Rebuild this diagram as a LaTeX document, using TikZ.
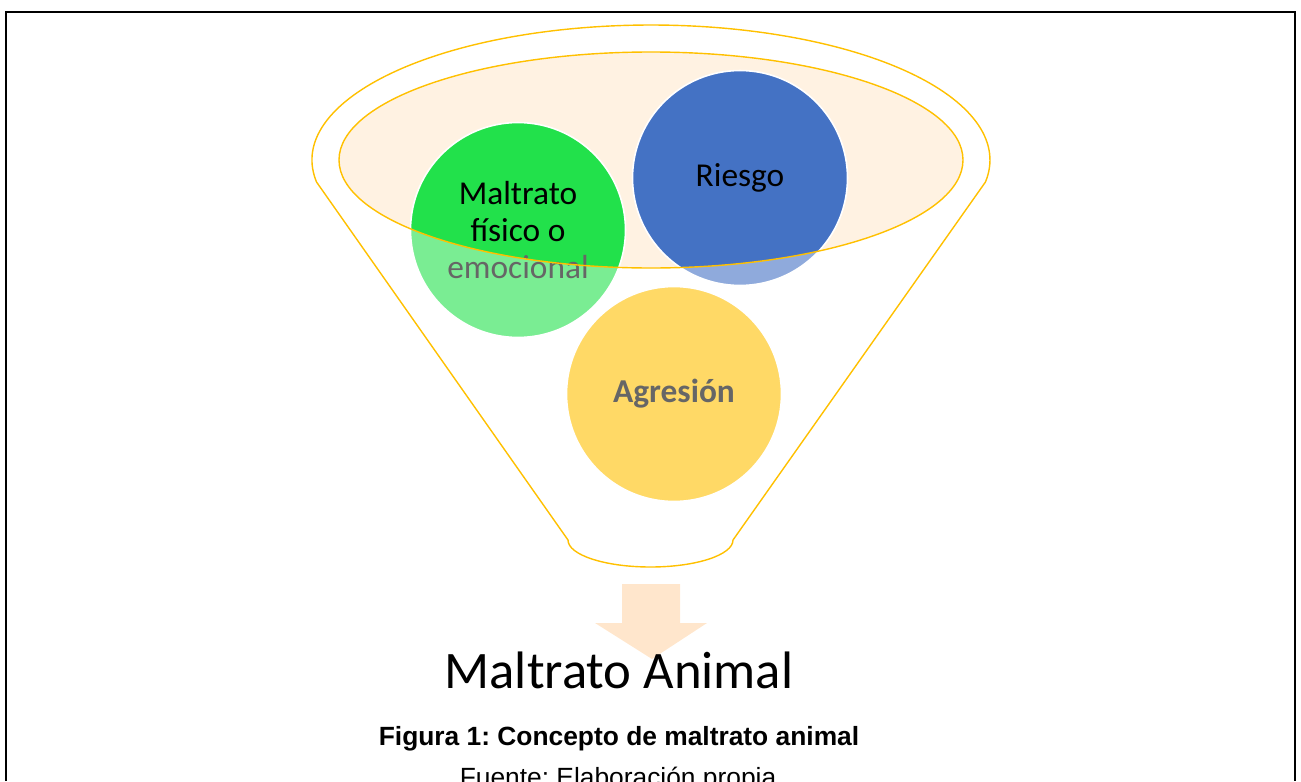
\documentclass[tikz,border=0pt]{standalone}
\usepackage{fontspec}
\setmainfont{Carlito}
\newfontfamily\arialfont{Liberation Sans}
\definecolor{funnelline}{HTML}{FFC000}
\definecolor{funnelfill}{HTML}{FFF2E2}
\definecolor{bubblegreen}{HTML}{22E14B}
\definecolor{bubbleblue}{HTML}{4472C4}
\definecolor{bubbleyellow}{HTML}{FFC000}
\definecolor{arrowfill}{HTML}{FFE6CC}
\definecolor{fadedtext}{HTML}{666666}
\frenchspacing
\begin{document}
\begin{tikzpicture}[x=0.02cm,y=-0.02cm,
    frameline/.style={line width=1.4pt},
    funnel/.style={draw=funnelline,line width=0.8pt},
    faded/.style={fill opacity=0.6},
    bubble/.style={circle,draw=white,line width=0.9pt,inner sep=0pt,
      minimum size=4.3cm,align=center,font=\fontsize{19}{21.3}\selectfont}]
  \useasboundingbox (0,0) rectangle (1301,781);
  \draw[frameline] (6,781) |- (1295,12) -- (1295,781);
  % funnel
  \draw[funnel] (316.55,182.05)
    arc[start angle=170.6,end angle=369.4,x radius=339,y radius=135]
    -- (733,540) arc[start angle=0,end angle=180,x radius=82.5,y radius=27]
    -- cycle;
  \fill[funnelfill] (651,160) ellipse[x radius=312,y radius=108];
  % bubbles, pale outside the mouth of the funnel
  \fill[bubblegreen,faded] (518,230) circle (107.5);
  \fill[bubbleblue,faded] (740,178) circle (107.5);
  \fill[bubbleyellow,faded] (674,394) circle (107.5);
  \begin{scope}
    \clip (651,160) ellipse[x radius=312,y radius=108];
    \fill[bubblegreen] (518,230) circle (107.5);
    \fill[bubbleblue] (740,178) circle (107.5);
  \end{scope}
  \node[bubble] (fisico) at (518,230) {Maltrato\\físico o\\\textcolor{fadedtext}{emocional}};
  \node[bubble] (riesgo) at (740,178) {Riesgo};
  \node[bubble,text=fadedtext,font=\fontsize{19}{21.3}\selectfont\bfseries] (agresion) at (674,394) {Agresión};
  \draw[funnel] (651,160) ellipse[x radius=312,y radius=108];
  % result
  \fill[arrowfill] (622,584) -- (680,584) -- (680,623) -- (707,623)
    -- (652,659) -- (595,623) -- (622,623) -- cycle;
  \node[anchor=base,font=\fontsize{30}{36}\selectfont] (maltrato) at (619,688) {Maltrato Animal};
  \node[anchor=base,font=\arialfont\bfseries\fontsize{15}{18}\selectfont] (figura) at (619,745) {Figura 1: Concepto de maltrato animal};
  \node[anchor=base,font=\arialfont\fontsize{15}{18}\selectfont] (fuente) at (618,786) {Fuente: Elaboración propia};
\end{tikzpicture}
\end{document}
